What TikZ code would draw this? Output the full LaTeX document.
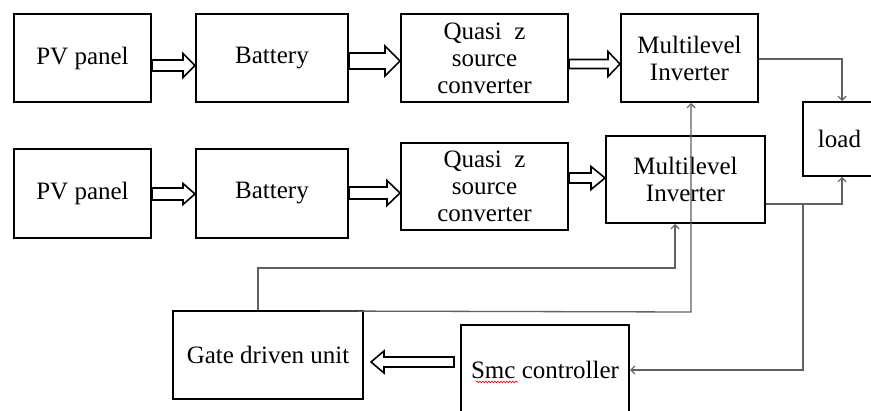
\documentclass[tikz,border=0pt]{standalone}
\usepackage{fontspec}
\setmainfont{Liberation Serif}
\usetikzlibrary{arrows.meta,calc,decorations.pathmorphing}
\definecolor{conncol}{HTML}{606060}
\newcommand{\blockar}[6]{% tail, tip, shaft half, head half, head length
  \draw[barrow] ($(#1)+(0,-#3)$) -- ($($(#2)!#5pt!(#1)$)+(0,-#3)$) -- ($($(#2)!#5pt!(#1)$)+(0,-#4)$)
    -- (#2) -- ($($(#2)!#5pt!(#1)$)+(0,#4)$) -- ($($(#2)!#5pt!(#1)$)+(0,#3)$) -- ($(#1)+(0,#3)$) -- cycle;}
\begin{document}
\begin{tikzpicture}[x=1pt,y=-1pt,
  box/.style={draw=black,line width=2pt,inner sep=0pt,align=center,
    font=\fontsize{25}{27}\selectfont},
  barrow/.style={draw=black,line width=1.6pt,fill=white,line join=miter},
  conn/.style={draw=conncol,line width=1.3pt},
  tip/.style={-{Straight Barb[length=4pt,width=8pt,line width=1.1pt]}}]
\clip (0,0) rectangle (871,411);
\fill[white] (0,0) rectangle (871,411);
% boxes
\node[box,minimum width=137pt,minimum height=88pt] (pv1) at (82.5,58) {PV panel};
\node[box,minimum width=152pt,minimum height=88pt] (bat1) at (272,58) {Battery};
\node[box,minimum width=167pt,minimum height=88pt] (q1) at (484.5,58) {Quasi\ \ z\\source\\converter};
\node[box,minimum width=137pt,minimum height=88pt] (ml1) at (689.5,58) {Multilevel\\Inverter};
\node[box,minimum width=73pt,minimum height=74pt] (load) at (839.5,139) {load};
\node[box,minimum width=137pt,minimum height=89pt] (pv2) at (82.5,193.5) {PV panel};
\node[box,minimum width=152pt,minimum height=89pt] (bat2) at (272,193.5) {Battery};
\node[box,minimum width=167pt,minimum height=87pt] (q2) at (484.5,186.5) {Quasi\ \ z\\source\\converter};
\node[box,minimum width=159pt,minimum height=87pt] (ml2) at (685.5,179.5) {Multilevel\\Inverter};
\node[box,minimum width=190pt,minimum height=88pt] (gate) at (268,355) {Gate driven unit};
\node[box,minimum width=168pt,minimum height=90pt] (smc) at (545,370) {Smc controller};
\draw[red,line width=0.6pt,decorate,decoration={snake,segment length=3pt,amplitude=0.9pt}] (476,382) -- (518,382);
% block arrows
\coordinate (a1t) at (pv1.east |- 0,65.5);  \coordinate (a1h) at (bat1.west |- 0,65.5);
\coordinate (a2t) at (bat1.east |- 0,61);   \coordinate (a2h) at (q1.west |- 0,61);
\coordinate (a3t) at (q1.east |- 0,64);     \coordinate (a3h) at (ml1.west |- 0,64);
\coordinate (a4t) at (pv2.east |- 0,194);   \coordinate (a4h) at (bat2.west |- 0,194);
\coordinate (a5t) at (bat2.east |- 0,193);  \coordinate (a5h) at (q2.west |- 0,193);
\coordinate (a6t) at (q2.east |- 0,178);    \coordinate (a6h) at (ml2.west |- 0,178);
\coordinate (a7t) at ($(smc.west |- 0,362)+(-6,0)$); \coordinate (a7h) at ($(gate.east |- 0,362)+(7,0)$);
\blockar{a1t}{a1h}{5.5}{12}{12}{}
\blockar{a2t}{a2h}{8}{15}{15}{}
\blockar{a3t}{a3h}{4.5}{12.5}{12}{}
\blockar{a4t}{a4h}{6}{10.5}{12}{}
\blockar{a5t}{a5h}{6}{12.5}{13}{}
\blockar{a6t}{a6h}{5}{11.5}{14}{}
\blockar{a7t}{a7h}{5}{11}{13}{}
% thin connectors
\coordinate (lx) at (842,0);
\coordinate (br) at (803,204);
\coordinate (g1) at (675,268);
\coordinate (g2) at (691,312);
\draw[conn,tip] (ml1.east |- 0,59) -| (lx |- load.north);
\draw[conn,tip] (ml2.east |- 0,204) -| (lx |- load.south);
\draw[conn,tip] (br) |- (smc.east);
\draw[conn,tip] (gate.north -| 258,0) |- (g1) -- (g1 |- ml2.south);
\draw[conn,tip] ($(gate.north west)!0.77!(gate.north east)+(0,1)$) -- (g2) -- (g2 |- ml1.south);
\end{tikzpicture}
\end{document}
